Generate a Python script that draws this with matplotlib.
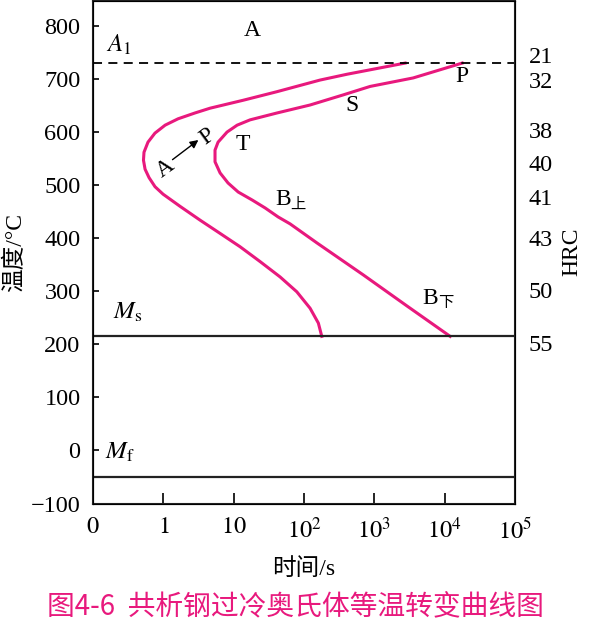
import matplotlib
matplotlib.use('Agg')
import matplotlib.pyplot as plt

plt.rcParams['font.family'] = ['Liberation Serif', 'Noto Sans CJK SC']
plt.rcParams['mathtext.fontset'] = 'stix'

PINK = '#e8197d'

# time in seconds, temperature in degrees C
start_t = [2740, 410, 169, 41, 13.7, 4.62, 2.82, 1.62, 1.06, 0.76, 0.605,
           0.531, 0.522, 0.55, 0.627, 0.762, 0.99, 1.73, 3.33, 6.41, 12.3,
           23.7, 45.7, 79, 122, 160, 179]
start_T = [730, 709, 698, 676, 660, 645, 636, 625, 613, 598, 581,
           562, 547, 530, 514, 497, 483, 460, 434, 409, 384,
           356, 327, 299, 268, 240, 215]

finish_t = [17740, 3565, 871, 360, 122, 41.4, 17.1, 11.2, 8.05, 6.0, 5.43,
            5.43, 6.41, 8.32, 11.6, 18.3, 28, 42.9, 63.4, 153, 693, 2930, 11970]
finish_T = [730, 702, 686, 670, 651, 636, 623, 613, 600, 581, 566,
            544, 523, 504, 487, 472, 457, 440, 427, 391, 331, 272, 215]

A1 = 730
Ms = 215
Mf = -50

ytick_vals = [-100, 0, 100, 200, 300, 400, 500, 600, 700, 800]
xtick_vals = [0.1, 1, 10, 1e2, 1e3, 1e4, 1e5]
xtick_labels = ['$0$', '$1$', '$10$', '$10^{2}$', '$10^{3}$', '$10^{4}$', '$10^{5}$']

hrc_T = [745, 698, 604, 541, 477, 400, 302, 202]
hrc_labels = ['21', '32', '38', '40', '41', '43', '50', '55']

fig = plt.figure(figsize=(5.89, 6.44), dpi=100)
ax = fig.add_axes([93 / 589, 1 - 503.5 / 644, 422 / 589, 502.5 / 644])

ax.plot(start_t, start_T, color=PINK, lw=2.2, solid_joinstyle='round')
ax.plot(finish_t, finish_T, color=PINK, lw=2.2, solid_joinstyle='round')
ax.axhline(A1, color='black', lw=1.3, dashes=(5, 3.5))
ax.axhline(Ms, color='#222222', lw=1.6)
ax.axhline(Mf, color='#222222', lw=1.6)

ax.set_xscale('log')
ax.set_xlim(0.1, 1e5)
ax.set_ylim(-100, 847)
ax.set_xticks(xtick_vals)
ax.set_xticklabels(xtick_labels)
ax.xaxis.set_minor_locator(matplotlib.ticker.NullLocator())
ax.set_yticks(ytick_vals)
ax.set_yticklabels(['\u2212100'] + [str(v) for v in ytick_vals[1:]])
ax.tick_params(axis='x', direction='in', length=8, width=1.2, pad=10, labelsize=17.5)
ax.tick_params(axis='y', direction='in', length=4, width=1.2, pad=9, labelsize=17.5)
for sp in ax.spines.values():
    sp.set_linewidth(1.5)
    sp.set_color('#222222')

ax2 = ax.twinx()
ax2.set_ylim(ax.get_ylim())
ax2.set_yticks(hrc_T)
ax2.set_yticklabels(hrc_labels)
ax2.tick_params(axis='y', length=0, pad=10, labelsize=17.5)
ax2.set_ylabel('HRC', fontsize=17, labelpad=6)

ax.set_xlabel('时间/s', fontsize=17, labelpad=11)
ax.set_ylabel('温度/°C', fontsize=17, labelpad=3)

# region labels
ax.text(18.3, 792, 'A', fontsize=17, ha='center', va='center')
ax.text(0.23, 764, '$A_1$', fontsize=18, ha='center', va='center')
ax.text(17700, 704, 'P', fontsize=17, ha='center', va='center')
ax.text(483, 651, 'S', fontsize=17, ha='center', va='center')
ax.text(13.6, 576, 'T', fontsize=17, ha='center', va='center')
ax.text(50, 472, 'B', fontsize=17, ha='center', va='center')
ax.annotate('上', (50, 472), xytext=(11, -4), textcoords='offset points',
            fontsize=11, ha='center', va='center')
ax.text(6200, 287, 'B', fontsize=17, ha='center', va='center')
ax.annotate('下', (6200, 287), xytext=(11, -4), textcoords='offset points',
            fontsize=11, ha='center', va='center')
ax.text(0.31, 261, r'$M_\mathrm{s}$', fontsize=18, ha='center', va='center')
ax.text(0.24, -3, r'$M_\mathrm{f}$', fontsize=18, ha='center', va='center')

# A -> P inside the nose
ax.text(1.06, 532, 'A', fontsize=17, ha='center', va='center', rotation=36)
ax.text(4.3, 592, 'P', fontsize=17, ha='center', va='center', rotation=36)
ax.annotate('', xy=(3.15, 585), xytext=(1.35, 548),
            arrowprops=dict(arrowstyle='-|>', color='black', lw=1.0,
                            mutation_scale=12, shrinkA=0, shrinkB=0))

fig.text(295 / 589, 1 - 607 / 644, '图4-6  共析钢过冷奥氏体等温转变曲线图',
         fontsize=20, color=PINK, ha='center', va='center',
         family=['Noto Sans CJK SC', 'DejaVu Sans'])

fig.savefig('out.png', dpi=100)
